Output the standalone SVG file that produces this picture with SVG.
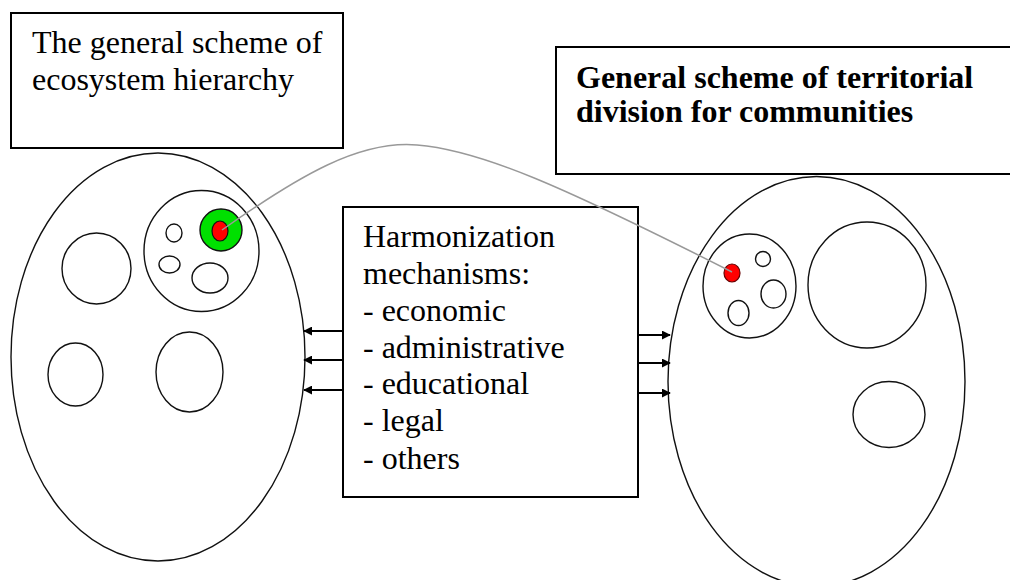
<svg xmlns="http://www.w3.org/2000/svg" width="1010" height="580" viewBox="0 0 1010 580">
<style>
.box{fill:#fff;stroke:#000;stroke-width:2}
.el{fill:none;stroke:#111;stroke-width:1.4}
.t{font-family:"Liberation Serif","Times New Roman",serif;font-size:32px;fill:#000}
.tb{font-family:"Liberation Serif","Times New Roman",serif;font-size:32px;font-weight:bold;fill:#000}
.arr{stroke:#000;stroke-width:2;fill:none;marker-end:url(#ah)}
.link{fill:none;stroke:#999;stroke-width:1.5}
</style>
<defs>
<marker id="ah" viewBox="0 0 10 10" refX="9" refY="5" markerWidth="4.5" markerHeight="4.5" orient="auto" markerUnits="strokeWidth">
<path d="M0,0 L10,5 L0,10 z" fill="#000"/>
</marker>
</defs>
<rect width="1010" height="580" fill="#fff"/>

<g id="box-ecosystem">
<rect class="box" x="11" y="13" width="332" height="135"/>
<text class="t" x="32" y="53">The general scheme of</text>
<text class="t" x="32" y="90">ecosystem hierarchy</text>
</g>

<g id="box-territorial">
<rect class="box" x="556" y="47" width="470" height="127"/>
<text class="tb" x="576" y="88">General scheme of territorial</text>
<text class="tb" x="576" y="122">division for communities</text>
</g>

<g id="ecosystem">
<ellipse class="el" cx="158" cy="357" rx="147" ry="204"/>
<ellipse class="el" cx="201.5" cy="251" rx="57.5" ry="60.5"/>
<circle cx="221" cy="230" r="21" fill="#00e000" stroke="#111" stroke-width="1.4"/>
<ellipse cx="220" cy="231" rx="8" ry="10" fill="#ff0000" stroke="#111" stroke-width="1.2"/>
<ellipse class="el" cx="174" cy="233" rx="8" ry="9"/>
<ellipse class="el" cx="169.5" cy="264.5" rx="10.5" ry="8.5"/>
<ellipse class="el" cx="210" cy="278" rx="18" ry="15"/>
<ellipse class="el" cx="96.5" cy="268.5" rx="34.5" ry="35.5"/>
<ellipse class="el" cx="75.5" cy="374.5" rx="27.5" ry="31.5"/>
<ellipse class="el" cx="189.5" cy="372" rx="33.5" ry="40"/>
</g>

<g id="territory">
<ellipse class="el" cx="816.5" cy="381.5" rx="148.5" ry="205"/>
<ellipse class="el" cx="749.5" cy="286" rx="46.5" ry="52"/>
<ellipse cx="732" cy="273" rx="8" ry="9" fill="#ff0000" stroke="#660000" stroke-width="1.2"/>
<circle class="el" cx="763" cy="259" r="7.5"/>
<ellipse class="el" cx="773.5" cy="294" rx="12.5" ry="14"/>
<ellipse class="el" cx="738.5" cy="313" rx="10.5" ry="12.5"/>
<ellipse class="el" cx="867" cy="285" rx="59" ry="63"/>
<ellipse class="el" cx="889" cy="414.5" rx="36" ry="33"/>
</g>

<g id="harmonization">
<rect class="box" x="343" y="207" width="295" height="290"/>
<text class="t" x="363" y="247">Harmonization</text>
<text class="t" x="363" y="284">mechanisms:</text>
<text class="t" x="363" y="321">- economic</text>
<text class="t" x="363" y="357.5">- administrative</text>
<text class="t" x="363" y="394">- educational</text>
<text class="t" x="363" y="431">- legal</text>
<text class="t" x="363" y="469">- others</text>
</g>

<g id="connectors">
<path class="link" d="M222,230 C300,175 360,140 417,145 C480,150 560,185 732,272"/>
<line class="arr" x1="343" y1="331" x2="304" y2="331"/>
<line class="arr" x1="343" y1="360" x2="304" y2="360"/>
<line class="arr" x1="343" y1="390" x2="304" y2="390"/>
<line class="arr" x1="638" y1="335" x2="670" y2="335"/>
<line class="arr" x1="638" y1="363" x2="670" y2="363"/>
<line class="arr" x1="638" y1="393" x2="670" y2="393"/>
</g>
</svg>
